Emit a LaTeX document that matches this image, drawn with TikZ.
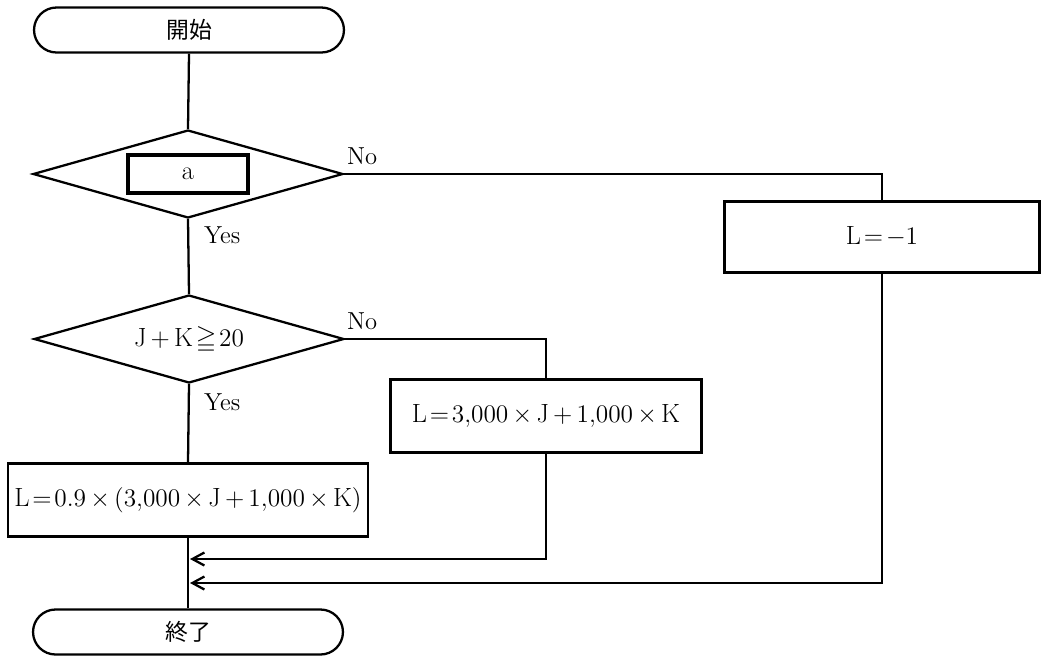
\documentclass[tikz,border=0pt]{standalone}
\usepackage{amssymb}
\usepackage{fontspec}
\newfontfamily\cjk{Noto Sans CJK JP}
\usetikzlibrary{shapes.geometric,arrows.meta}
\newcommand{\tightmath}{\thickmuskip=2mu \medmuskip=3mu}
\begin{document}
\begin{tikzpicture}[x=0.02cm,y=-0.02cm,
  line width=1.3pt,
  every node/.style={inner sep=0pt},
  term/.style={draw,rounded corners=0.45cm,minimum width=6.2cm,minimum height=0.9cm,font=\cjk\fontsize{13}{16}\selectfont},
  decis/.style={draw,diamond,minimum width=6.2cm,minimum height=1.76cm},
  txt/.style={font=\fontsize{15}{18}\selectfont},
  proc/.style={draw,rectangle,minimum height=1.46cm,txt},
  lbl/.style={font=\fontsize{14}{17}\selectfont},
  arr/.style={-{Straight Barb[length=2.4mm,width=2.6mm,line width=1.3pt]}}
]
\useasboundingbox (0,0) rectangle (1042,657);
\node[term] (start) at (189,30) {開始};
\node[decis] (d1) at (188,174) {};
\node[draw,line width=2pt,minimum width=2.4cm,minimum height=0.76cm,txt] (a) at (188,174) {a};
\node[decis] (d2) at (189,339) {};
\node[txt] (t2) at (189,340) {$\tightmath\mathrm{J}+\mathrm{K}\geqq 20$};
\node[proc,minimum width=7.2cm] (b1) at (188,500) {$\tightmath\mathrm{L}=0.9\times(3{,}000\times \mathrm{J}+1{,}000\times \mathrm{K})$};
\node[proc,minimum width=6.22cm] (b2) at (546,416) {$\tightmath\mathrm{L}=3{,}000\times \mathrm{J}+1{,}000\times \mathrm{K}$};
\node[proc,minimum width=6.3cm,minimum height=1.42cm] (b3) at (882,237) {$\tightmath\mathrm{L}=-1$};
\node[term] (end) at (188,632) {終了};
\coordinate (m1) at (190,559);
\coordinate (m2) at (190,583);
\draw (start.south) -- (d1.north);
\draw (d1.south) -- (d2.north);
\draw (d2.south) -- (b1.north);
\draw (b1.south) -- (end.north);
\draw (d1.east) -| (b3.north);
\draw (d2.east) -| (b2.north);
\draw[arr] (b2.south) |- (m1);
\draw[arr] (b3.south) |- (m2);
\node[lbl,anchor=south west] (no1) at (346,166) {No};
\node[lbl,anchor=north west] (yes1) at (203,226) {Yes};
\node[lbl,anchor=south west] (no2) at (346,331) {No};
\node[lbl,anchor=north west] (yes2) at (203,393) {Yes};
\end{tikzpicture}
\end{document}
